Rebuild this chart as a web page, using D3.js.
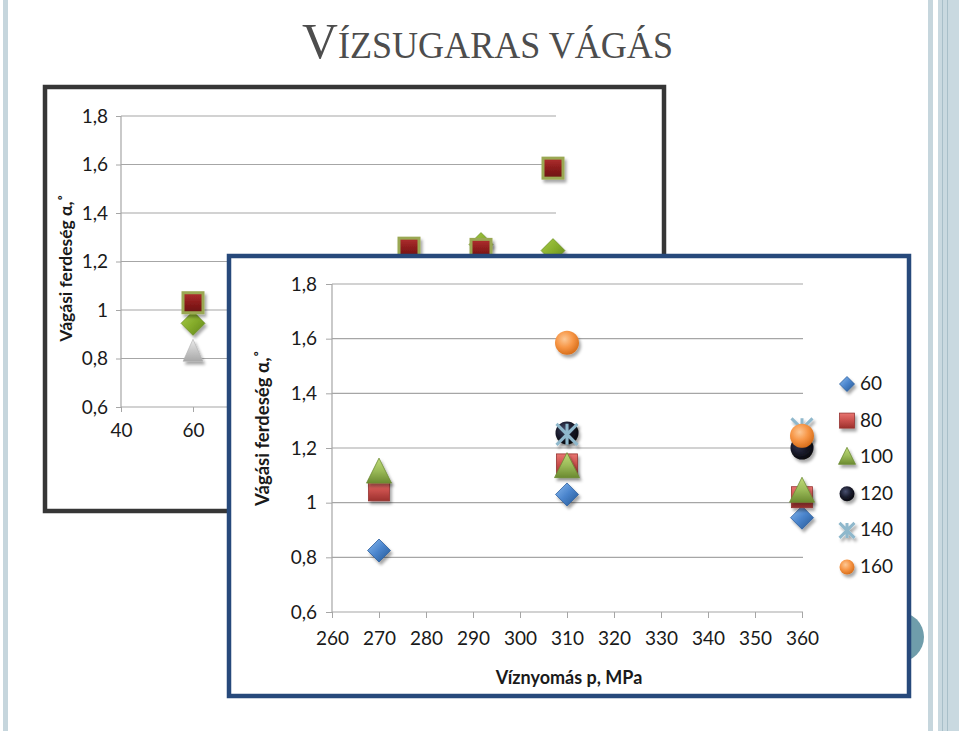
<!DOCTYPE html>
<html><head><meta charset="utf-8">
<script src="https://cdn.jsdelivr.net/npm/d3@7"></script>
<style>body{margin:0;background:#fff;} svg{display:block;}</style>
</head><body>
<svg id="c" width="959" height="731"></svg>
<script>
// ---------- data ----------
const pressures = [270, 310, 360];               // front chart x values (MPa)
const seriesKeys = [60, 80, 100, 120, 140, 160]; // series (legend)
const seriesLabels = ["60", "80", "100", "120", "140", "160"];
const s60  = [0.825, 1.03, 0.945];
const s80  = [1.045, 1.14, 1.02];
const s100 = [1.11, 1.13, 1.04];
const s120 = [null, 1.255, 1.2];
const s140 = [null, 1.25, 1.27];
const s160 = [null, 1.585, 1.245];
const seriesValues = [s60, s80, s100, s120, s140, s160];
const yTicks = [0.6, 0.8, 1, 1.2, 1.4, 1.6, 1.8];
const frontXTicks = [260, 270, 280, 290, 300, 310, 320, 330, 340, 350, 360];
const backXTicks = [40, 60, 80, 100, 120, 140, 160];
const backSeriesOrder = [360, 270, 310];
const titleBig = "V";
const titleRest = "ÍZSUGARAS VÁGÁS";
const yTitle = "Vágási ferdeség α,˚";
const xTitle = "Víznyomás p, MPa";

// ---------- setup ----------
const svg = d3.select("#c");
const fmt = d3.formatLocale({decimal: ",", thousands: " ", grouping: [3], currency: ["", ""]}).format("~g");
const FONT = "Lato, 'Open Sans', sans-serif";
const defs = svg.append("defs");

function linGrad(id, stops, x2 = "0", y2 = "1", x1 = "0", y1 = "0") {
  const g = defs.append("linearGradient").attr("id", id).attr("x1", x1).attr("y1", y1).attr("x2", x2).attr("y2", y2);
  stops.forEach((c, i) => g.append("stop").attr("offset", i / (stops.length - 1)).attr("stop-color", c));
}
function radGrad(id, stops, cx = "0.4", cy = "0.35") {
  const g = defs.append("radialGradient").attr("id", id).attr("cx", cx).attr("cy", cy).attr("r", "0.7");
  stops.forEach((c, i) => g.append("stop").attr("offset", i / (stops.length - 1)).attr("stop-color", c));
}
linGrad("gBlue", ["#8cbcf0", "#4a84cc", "#22548f"], "1", "1");
linGrad("gRed", ["#e87571", "#c9504c", "#9c302d"]);
linGrad("gGreen", ["#c0dc78", "#9bbb59", "#6b8a30"]);
radGrad("gBlack", ["#4a5070", "#1c1e30", "#050508"]);
radGrad("gOrange", ["#fcc896", "#f79646", "#d46a16"]);
linGrad("gDarkRed", ["#b03030", "#8c1c1c", "#6a1010"]);
linGrad("gBackGreen", ["#a8cc48", "#86ad2c", "#5f8418"], "1", "1");
linGrad("gGray", ["#ececec", "#c8c8c8", "#a8a8a8"]);
const f = defs.append("filter").attr("id", "sh").attr("x", "-50%").attr("y", "-50%").attr("width", "200%").attr("height", "200%");
f.append("feDropShadow").attr("dx", 2).attr("dy", 3).attr("stdDeviation", 1.8).attr("flood-color", "#000").attr("flood-opacity", 0.35);

// marker drawing
function drawMarker(g, type, s) {
  if (type === "diamond") {
    g.append("path").attr("d", `M0,${-s/2}L${s/2},0L0,${s/2}L${-s/2},0Z`).attr("fill", "url(#gBlue)").attr("stroke", "#2d5f9e").attr("stroke-width", 0.8);
  } else if (type === "square") {
    g.append("rect").attr("x", -s/2).attr("y", -s/2).attr("width", s).attr("height", s).attr("fill", "url(#gRed)").attr("stroke", "#963431").attr("stroke-width", 0.8);
  } else if (type === "triangle") {
    g.append("path").attr("d", `M0,${-s*0.58}L${s*0.5},${s*0.42}L${-s*0.5},${s*0.42}Z`).attr("fill", "url(#gGreen)").attr("stroke", "#6f8d37").attr("stroke-width", 0.8);
  } else if (type === "dark") {
    g.append("circle").attr("r", s/2).attr("fill", "url(#gBlack)");
  } else if (type === "star") {
    const r = s/2;
    g.append("path").attr("d", `M${-r},${-r}L${r},${r}M${r},${-r}L${-r},${r}M0,${-r}L0,${r}`)
      .attr("stroke", "#8fb8cc").attr("stroke-width", 3).attr("fill", "none");
  } else if (type === "orange") {
    g.append("circle").attr("r", s/2).attr("fill", "url(#gOrange)");
  } else if (type === "bsquare") {
    g.append("rect").attr("x", -s/2).attr("y", -s/2).attr("width", s).attr("height", s).attr("fill", "url(#gDarkRed)").attr("stroke", "#9aa852").attr("stroke-width", 3);
  } else if (type === "bdiamond") {
    g.append("path").attr("d", `M0,${-s/2}L${s/2},0L0,${s/2}L${-s/2},0Z`).attr("fill", "url(#gBackGreen)").attr("stroke", "#5f8418").attr("stroke-width", 0.6);
  } else if (type === "btriangle") {
    g.append("path").attr("d", `M0,${-s*0.6}L${s*0.45},${s*0.4}L${-s*0.45},${s*0.4}Z`).attr("fill", "url(#gGray)").attr("stroke", "#b0b0b0").attr("stroke-width", 0.6);
  }
}
const frontTypes = ["diamond", "square", "triangle", "dark", "star", "orange"];
const frontSizes = [23, 21, 25, 23, 21, 24];
const legendSizes = [15, 15, 17, 15, 15, 15];
const backTypes = {270: "btriangle", 310: "bsquare", 360: "bdiamond"};
const backSizes = {270: 22, 310: 20, 360: 24};

// ---------- page decoration ----------
svg.append("rect").attr("x", 3).attr("y", 0).attr("width", 5).attr("height", 731).attr("fill", "#c6d6dd");
svg.append("rect").attr("x", 928).attr("y", 0).attr("width", 5).attr("height", 731).attr("fill", "#c6d6dd");
svg.append("rect").attr("x", 938).attr("y", 0).attr("width", 21).attr("height", 731).attr("fill", "#c9d9e0");
[942.5, 947.5].forEach(x => svg.append("line").attr("x1", x).attr("x2", x).attr("y1", 0).attr("y2", 731).attr("stroke", "#a8bfc9").attr("stroke-width", 1));

// ---------- title ----------
const title = svg.append("text").attr("x", 302).attr("y", 58).attr("fill", "#4d4d4d")
  .attr("font-family", "'Liberation Serif', 'DejaVu Serif', serif")
  .attr("textLength", 371).attr("lengthAdjust", "spacingAndGlyphs");
title.append("tspan").attr("font-size", 51).text(titleBig);
title.append("tspan").attr("font-size", 37).text(titleRest);

// ---------- back chart ----------
svg.append("rect").attr("x", 45).attr("y", 87).attr("width", 619).attr("height", 424)
  .attr("fill", "#fff").attr("stroke", "#363636").attr("stroke-width", 4.5);
const bx = d3.scaleLinear().domain([40, 160]).range([121, 553]);
const by = d3.scaleLinear().domain([0.6, 1.8]).range([407, 116]);
const bg = svg.append("g");
bg.append("g").selectAll("line").data(yTicks.slice(1)).join("line")
  .attr("x1", 121).attr("x2", 556).attr("y1", d => by(d)).attr("y2", d => by(d))
  .attr("stroke", "#a6a6a6").attr("stroke-width", 1.2);
const bya = bg.append("g").attr("transform", "translate(121,0)")
  .call(d3.axisLeft(by).tickValues(yTicks).tickFormat(fmt).tickSize(5).tickPadding(8));
const bxa = bg.append("g").attr("transform", `translate(0,${by(0.6)})`)
  .call(d3.axisBottom(bx).tickValues(backXTicks).tickFormat(fmt).tickSize(5).tickPadding(12));
[bya, bxa].forEach(a => {
  a.select(".domain").attr("stroke", "#a6a6a6").attr("stroke-width", 1.2);
  a.selectAll(".tick line").attr("stroke", "#a6a6a6");
  a.selectAll("text").attr("font-family", FONT).attr("font-size", 19).attr("fill", "#1a1a1a");
});
bxa.select(".domain").attr("d", `M121,0H556`);
bya.select(".domain").attr("d", `M0,${by(1.8)}V${by(0.6)}`);
bg.append("text").attr("transform", `translate(72,268) rotate(-90)`).attr("text-anchor", "middle")
  .attr("font-family", FONT).attr("font-weight", "bold").attr("font-size", 17.5).attr("fill", "#1a1a1a").text(yTitle);
// back markers: x = series key, one series per pressure
backSeriesOrder.forEach(p => {
  const pi = pressures.indexOf(p);
  seriesKeys.forEach((k, si) => {
    const v = seriesValues[si][pi];
    if (v == null) return;
    const g = bg.append("g").attr("transform", `translate(${bx(k)},${by(v)})`).attr("filter", "url(#sh)");
    drawMarker(g, backTypes[p], backSizes[p]);
  });
});

// ---------- decorative circle ----------
svg.append("circle").attr("cx", 899).attr("cy", 637).attr("r", 25).attr("fill", "#6f9dab");

// ---------- front chart ----------
svg.append("rect").attr("x", 229).attr("y", 256).attr("width", 680).attr("height", 440)
  .attr("fill", "#fff").attr("stroke", "#27497b").attr("stroke-width", 4.5);
const fx = d3.scaleLinear().domain([260, 360]).range([332, 802]);
const fy = d3.scaleLinear().domain([0.6, 1.8]).range([612, 284]);
const fg = svg.append("g");
fg.append("g").selectAll("line").data(yTicks.slice(1)).join("line")
  .attr("x1", 332).attr("x2", 803).attr("y1", d => fy(d)).attr("y2", d => fy(d))
  .attr("stroke", "#a6a6a6").attr("stroke-width", 1.2);
const fya = fg.append("g").attr("transform", "translate(332,0)")
  .call(d3.axisLeft(fy).tickValues(yTicks).tickFormat(fmt).tickSize(6).tickPadding(9));
const fxa = fg.append("g").attr("transform", `translate(0,${fy(0.6)})`)
  .call(d3.axisBottom(fx).tickValues(frontXTicks).tickFormat(fmt).tickSize(6).tickPadding(14));
[fya, fxa].forEach(a => {
  a.select(".domain").attr("stroke", "#a6a6a6").attr("stroke-width", 1.2);
  a.selectAll(".tick line").attr("stroke", "#a6a6a6");
  a.selectAll("text").attr("font-family", FONT).attr("font-size", 19).attr("fill", "#1a1a1a");
});
fxa.select(".domain").attr("d", `M332,0H803`);
fya.select(".domain").attr("d", `M0,${fy(1.8)}V${fy(0.6)}`);
fg.append("text").attr("transform", `translate(269,428) rotate(-90)`).attr("text-anchor", "middle")
  .attr("font-family", FONT).attr("font-weight", "bold").attr("font-size", 18.5).attr("fill", "#1a1a1a").text(yTitle);
fg.append("text").attr("x", 569).attr("y", 684).attr("text-anchor", "middle")
  .attr("font-family", FONT).attr("font-weight", "bold").attr("font-size", 18).attr("fill", "#1a1a1a").text(xTitle);

seriesKeys.forEach((k, si) => {
  pressures.forEach((p, pi) => {
    const v = seriesValues[si][pi];
    if (v == null) return;
    const g = fg.append("g").attr("transform", `translate(${fx(p)},${fy(v)})`).attr("filter", "url(#sh)");
    drawMarker(g, frontTypes[si], frontSizes[si]);
  });
});

// legend
const legY = d3.scalePoint().domain(seriesLabels).range([384, 567]);
seriesLabels.forEach((lab, si) => {
  const g = fg.append("g").attr("transform", `translate(847,${legY(lab)})`);
  const m = g.append("g").attr("filter", "url(#sh)");
  drawMarker(m, frontTypes[si], legendSizes[si]);
  g.append("text").attr("x", 13).attr("y", 6).attr("font-family", FONT).attr("font-size", 19).attr("fill", "#1a1a1a").text(lab);
});
</script>
</body></html>
